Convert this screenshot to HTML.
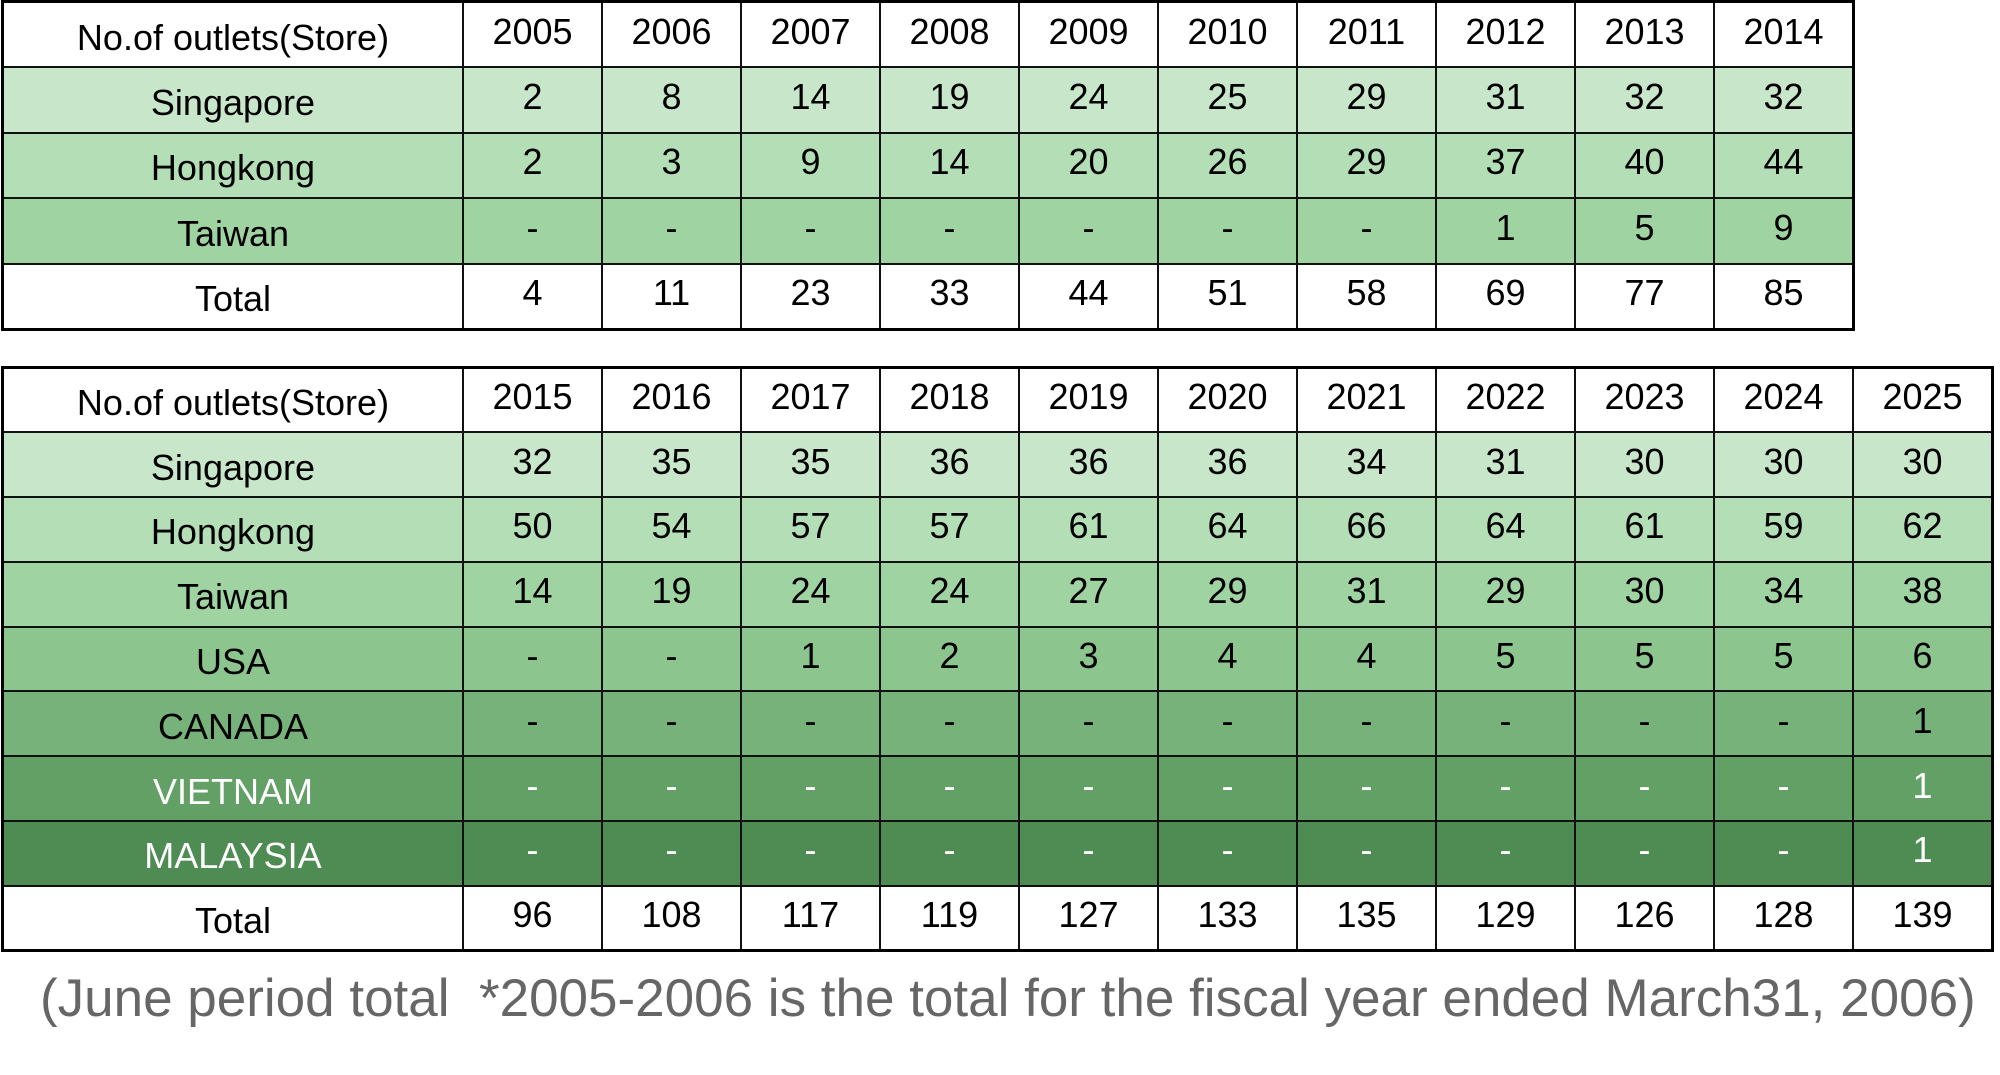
<!DOCTYPE html>
<html><head><meta charset="utf-8"><style>
html,body{margin:0;padding:0;background:#fff;width:2000px;height:1075px;overflow:hidden}
body{position:relative;font-family:"Liberation Sans",sans-serif;}
table{position:absolute;left:1px;border-collapse:collapse;table-layout:fixed;border:3px solid #000}
td{border:2.5px solid #111;text-align:center;font-size:36px;color:#000;padding:0;letter-spacing:0px}
td.l{width:458px}
td.y{width:137px}
td:first-child{padding-top:6px}
td:not(:first-child){padding-bottom:6px}
.w{background:#fff}.r1{background:#c8e6c9}.r2{background:#b4dfb6}.r3{background:#a0d3a2}.r4{background:#8cc68e}.r5{background:#78b27b}.r6{background:#63a066}.r7{background:#4f8c53}
.r6 td,.r7 td{color:#fff}
#t1{top:0}#t1 tr{height:65.6px}
#t2{top:366px}#t2 tr{height:64.8px}
.note{position:absolute;left:40px;top:972px;font-size:53px;color:#666;white-space:nowrap;letter-spacing:0;line-height:1}
</style></head><body>
<table id="t1">
<tr class="w"><td class="l">No.of outlets(Store)</td><td class="y">2005</td><td class="y">2006</td><td class="y">2007</td><td class="y">2008</td><td class="y">2009</td><td class="y">2010</td><td class="y">2011</td><td class="y">2012</td><td class="y">2013</td><td class="y">2014</td></tr>
<tr class="r1"><td>Singapore</td><td>2</td><td>8</td><td>14</td><td>19</td><td>24</td><td>25</td><td>29</td><td>31</td><td>32</td><td>32</td></tr>
<tr class="r2"><td>Hongkong</td><td>2</td><td>3</td><td>9</td><td>14</td><td>20</td><td>26</td><td>29</td><td>37</td><td>40</td><td>44</td></tr>
<tr class="r3"><td>Taiwan</td><td>-</td><td>-</td><td>-</td><td>-</td><td>-</td><td>-</td><td>-</td><td>1</td><td>5</td><td>9</td></tr>
<tr class="w"><td>Total</td><td>4</td><td>11</td><td>23</td><td>33</td><td>44</td><td>51</td><td>58</td><td>69</td><td>77</td><td>85</td></tr>
</table>
<table id="t2">
<tr class="w"><td class="l">No.of outlets(Store)</td><td class="y">2015</td><td class="y">2016</td><td class="y">2017</td><td class="y">2018</td><td class="y">2019</td><td class="y">2020</td><td class="y">2021</td><td class="y">2022</td><td class="y">2023</td><td class="y">2024</td><td class="y">2025</td></tr>
<tr class="r1"><td>Singapore</td><td>32</td><td>35</td><td>35</td><td>36</td><td>36</td><td>36</td><td>34</td><td>31</td><td>30</td><td>30</td><td>30</td></tr>
<tr class="r2"><td>Hongkong</td><td>50</td><td>54</td><td>57</td><td>57</td><td>61</td><td>64</td><td>66</td><td>64</td><td>61</td><td>59</td><td>62</td></tr>
<tr class="r3"><td>Taiwan</td><td>14</td><td>19</td><td>24</td><td>24</td><td>27</td><td>29</td><td>31</td><td>29</td><td>30</td><td>34</td><td>38</td></tr>
<tr class="r4"><td>USA</td><td>-</td><td>-</td><td>1</td><td>2</td><td>3</td><td>4</td><td>4</td><td>5</td><td>5</td><td>5</td><td>6</td></tr>
<tr class="r5"><td>CANADA</td><td>-</td><td>-</td><td>-</td><td>-</td><td>-</td><td>-</td><td>-</td><td>-</td><td>-</td><td>-</td><td>1</td></tr>
<tr class="r6"><td>VIETNAM</td><td>-</td><td>-</td><td>-</td><td>-</td><td>-</td><td>-</td><td>-</td><td>-</td><td>-</td><td>-</td><td>1</td></tr>
<tr class="r7"><td>MALAYSIA</td><td>-</td><td>-</td><td>-</td><td>-</td><td>-</td><td>-</td><td>-</td><td>-</td><td>-</td><td>-</td><td>1</td></tr>
<tr class="w"><td>Total</td><td>96</td><td>108</td><td>117</td><td>119</td><td>127</td><td>133</td><td>135</td><td>129</td><td>126</td><td>128</td><td>139</td></tr>
</table>
<div class="note">(June period total&nbsp; *2005-2006 is the total for the fiscal year ended March31, 2006)</div>
</body></html>
